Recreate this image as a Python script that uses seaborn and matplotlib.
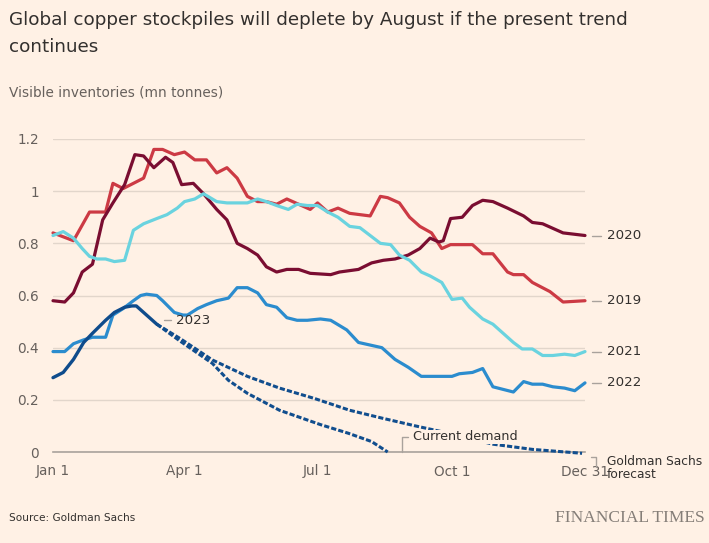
import matplotlib
matplotlib.use('Agg')
import matplotlib.pyplot as plt
import seaborn as sns

# day of year (0 = Jan 1) and visible inventories in mn tonnes
days_2019 = [0, 14, 25, 36, 41, 48, 55, 62, 69, 75, 83, 90, 97, 105, 112, 119, 126, 133, 140, 146,
             153, 160, 168, 176, 181, 188, 195, 203, 217, 224, 229, 237, 244, 251, 259, 266, 272,
             287, 294, 301, 311, 315, 322, 328, 340, 349, 364]
vals_2019 = [0.84, 0.81, 0.92, 0.92, 1.03, 1.01, 1.03, 1.05, 1.16, 1.16, 1.14, 1.15, 1.12, 1.12, 1.07,
             1.09, 1.05, 0.98, 0.96, 0.96, 0.95, 0.97, 0.95, 0.93, 0.955, 0.92, 0.935, 0.915, 0.905,
             0.98, 0.975, 0.955, 0.90, 0.865, 0.84, 0.78, 0.795, 0.795, 0.76, 0.76, 0.69, 0.68, 0.68,
             0.65, 0.615, 0.575, 0.58]

days_2020 = [0, 8, 14, 20, 27, 34, 41, 49, 56, 62, 69, 77, 82, 88, 96, 103, 112, 119, 126, 133, 140,
             146, 153, 160, 168, 176, 190, 196, 209, 218, 226, 234, 243, 251, 258, 264, 267, 272,
             280, 287, 294, 301, 311, 322, 328, 335, 341, 349, 364]
vals_2020 = [0.58, 0.575, 0.61, 0.69, 0.72, 0.89, 0.955, 1.025, 1.14, 1.135, 1.09, 1.13, 1.11, 1.025,
             1.03, 0.99, 0.93, 0.89, 0.80, 0.78, 0.755, 0.71, 0.69, 0.70, 0.70, 0.685, 0.68, 0.69,
             0.70, 0.725, 0.735, 0.74, 0.755, 0.78, 0.82, 0.805, 0.81, 0.895, 0.90, 0.945, 0.965,
             0.96, 0.935, 0.905, 0.88, 0.875, 0.86, 0.84, 0.83]

days_2021 = [0, 7, 14, 20, 25, 30, 36, 42, 49, 55, 62, 71, 78, 85, 90, 97, 103, 106, 112, 119, 133,
             140, 146, 153, 161, 167, 174, 181, 188, 195, 203, 210, 217, 224, 231, 237, 244, 252,
             258, 266, 273, 280, 285, 294, 301, 308, 315, 321, 328, 335, 342, 350, 357, 364]
vals_2021 = [0.83, 0.845, 0.82, 0.78, 0.75, 0.74, 0.74, 0.73, 0.735, 0.85, 0.875, 0.895, 0.91, 0.935,
             0.96, 0.97, 0.99, 0.98, 0.96, 0.955, 0.955, 0.97, 0.96, 0.945, 0.93, 0.95, 0.945, 0.945,
             0.92, 0.90, 0.865, 0.86, 0.83, 0.80, 0.795, 0.755, 0.735, 0.69, 0.675, 0.65, 0.585,
             0.59, 0.555, 0.51, 0.49, 0.455, 0.42, 0.395, 0.395, 0.37, 0.37, 0.375, 0.37, 0.385]

days_2022 = [0, 8, 14, 21, 27, 36, 41, 48, 55, 60, 64, 71, 75, 83, 89, 92, 99, 105, 112, 120, 126,
             133, 140, 146, 153, 160, 167, 174, 183, 190, 193, 201, 209, 217, 225, 234, 243, 252,
             266, 273, 278, 287, 294, 301, 308, 315, 322, 328, 335, 342, 350, 357, 364]
vals_2022 = [0.385, 0.385, 0.415, 0.43, 0.44, 0.44, 0.525, 0.55, 0.58, 0.60, 0.605, 0.60, 0.58,
             0.535, 0.525, 0.525, 0.55, 0.565, 0.58, 0.59, 0.63, 0.63, 0.61, 0.565, 0.555, 0.515,
             0.505, 0.505, 0.51, 0.505, 0.495, 0.468, 0.42, 0.41, 0.40, 0.355, 0.325, 0.29, 0.29,
             0.29, 0.30, 0.305, 0.32, 0.25, 0.24, 0.23, 0.27, 0.26, 0.26, 0.25, 0.245, 0.235, 0.265]

days_2023 = [0, 7, 14, 21, 27, 36, 42, 49, 54, 57, 64, 71]
vals_2023 = [0.285, 0.305, 0.355, 0.42, 0.455, 0.505, 0.535, 0.555, 0.56, 0.56, 0.525, 0.49]

# Goldman Sachs forecast and current-demand projections from the last 2023 reading
days_gs = [71, 87, 109, 133, 155, 179, 203, 225, 248, 270, 301, 328, 362]
vals_gs = [0.49, 0.435, 0.353, 0.29, 0.245, 0.205, 0.16, 0.13, 0.10, 0.073, 0.03, 0.01, -0.005]

days_demand = [71, 87, 109, 120, 133, 155, 183, 202, 218, 229]
vals_demand = [0.49, 0.425, 0.34, 0.275, 0.225, 0.16, 0.105, 0.072, 0.04, 0.0]

tick_days = [0, 90, 181, 273, 364]
tick_labels = ['Jan 1', 'Apr 1', 'Jul 1', 'Oct 1', 'Dec 31']
y_ticks = [0, 0.2, 0.4, 0.6, 0.8, 1.0, 1.2]
y_labels = ['0', '0.2', '0.4', '0.6', '0.8', '1', '1.2']

bg = '#fff1e5'
text_dark = '#33302e'
text_grey = '#66605c'
rule = '#a9a29c'

sns.set_theme(style='white')
plt.rcParams['font.family'] = ['DejaVu Sans']

fig = plt.figure(figsize=(7.09, 5.43), dpi=100, facecolor=bg)
ax = fig.add_axes([53 / 709, 91 / 543, 532 / 709, 313 / 543])
ax.set_facecolor(bg)

series = [
    (days_2019, vals_2019, '#cc3a44'),
    (days_2020, vals_2020, '#7a0d31'),
    (days_2021, vals_2021, '#6ad3df'),
    (days_2022, vals_2022, '#2b8cce'),
]
for d, v, c in series:
    sns.lineplot(x=d, y=v, ax=ax, color=c, linewidth=2.3, estimator=None, sort=False, zorder=3)

dash_col = '#114e8e'
sns.lineplot(x=days_gs, y=vals_gs, ax=ax, color=dash_col, linewidth=2.2, estimator=None, sort=False,
             linestyle=(0, (1.7, 0.7)), zorder=3)
sns.lineplot(x=days_demand, y=vals_demand, ax=ax, color=dash_col, linewidth=2.2, estimator=None,
             sort=False, linestyle=(0, (1.7, 0.7)), zorder=3)
sns.lineplot(x=days_2023, y=vals_2023, ax=ax, color='#0f4c8c', linewidth=2.4, estimator=None,
             sort=False, zorder=4)
for ln in ax.lines:
    ln.set_clip_on(False)
    ln.set_solid_capstyle('round')
    ln.set_solid_joinstyle('round')

ax.set_xlim(0, 364)
ax.set_ylim(0, 1.2)
ax.set_yticks(y_ticks)
ax.set_yticklabels(y_labels)
ax.set_xticks(tick_days)
ax.set_xticklabels(tick_labels)
ax.grid(axis='y', color='#e2d6cb', linewidth=1.0, zorder=0)
ax.grid(axis='x', visible=False)
for side in ['top', 'right', 'left']:
    ax.spines[side].set_visible(False)
ax.spines['bottom'].set_color(rule)
ax.spines['bottom'].set_linewidth(1.2)
ax.spines['bottom'].set_zorder(2)
ax.tick_params(axis='y', length=0, pad=10, labelsize=9.8, labelcolor=text_grey)
ax.tick_params(axis='x', length=6, width=1, color=rule, pad=3, labelsize=9.8,
               labelcolor=text_grey, direction='out')
ax.set_xlabel('')
ax.set_ylabel('')

# line labels on the right
ends = [(vals_2020[-1], '2020'), (vals_2019[-1], '2019'), (vals_2021[-1], '2021'), (vals_2022[-1], '2022')]
for v, lab in ends:
    ax.plot([369, 375], [v, v], color=rule, lw=1, clip_on=False)
    ax.text(379, v, lab, ha='left', va='center', fontsize=9.6, color=text_dark, clip_on=False)

# 2023 label
ax.plot([76, 81], [vals_2023[-1] + 0.015, vals_2023[-1] + 0.015], color=rule, lw=1)
ax.text(84, vals_2023[-1] + 0.015, '2023', ha='left', va='center', fontsize=9.6, color=text_dark)

# current demand bracket
ax.plot([239, 239, 243], [0, 0.058, 0.058], color=rule, lw=1, clip_on=False, zorder=5)
ax.text(246, 0.058, 'Current demand', ha='left', va='center', fontsize=9.2, color=text_dark,
        zorder=6, bbox=dict(boxstyle='square,pad=0.05', facecolor=bg, edgecolor='none'))

# Goldman Sachs forecast bracket
ax.plot([368, 371.5, 371.5], [-0.02, -0.02, -0.058], color=rule, lw=1, clip_on=False)
ax.text(379, -0.062, 'Goldman Sachs\nforecast', ha='left', va='center', fontsize=8.8,
        color=text_dark, linespacing=1.0, clip_on=False)

fig.text(9 / 709, 1 - 20 / 543, 'Global copper stockpiles will deplete by August if the present trend',
         ha='left', va='center', fontsize=13.2, color=text_dark)
fig.text(9 / 709, 1 - 47 / 543, 'continues', ha='left', va='center', fontsize=13.2, color=text_dark)
fig.text(9 / 709, 1 - 92 / 543, 'Visible inventories (mn tonnes)', ha='left', va='center',
         fontsize=9.8, color=text_grey)
fig.text(9 / 709, 1 - 518 / 543, 'Source: Goldman Sachs', ha='left', va='center',
         fontsize=7.6, color=text_dark)
fig.text(705 / 709, 1 - 518 / 543, 'FINANCIAL TIMES', ha='right', va='center', fontsize=12.5,
         color='#857e78', family=['Liberation Serif', 'DejaVu Serif'])

fig.savefig('out.png', dpi=100, facecolor=bg)
